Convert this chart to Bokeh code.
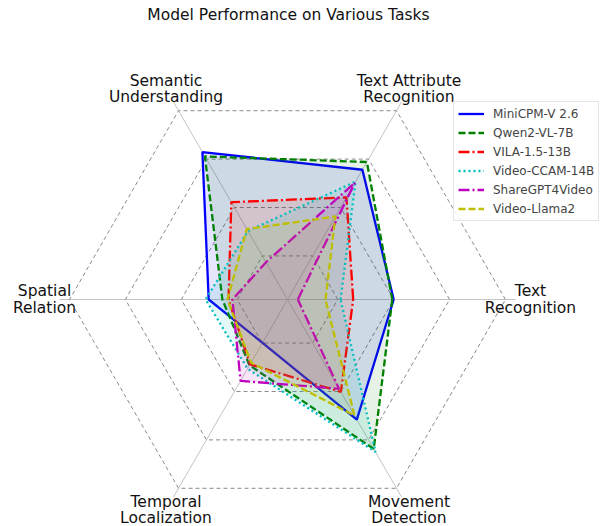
import math
from bokeh.plotting import figure
from bokeh.models import Range1d, Legend, LegendItem
from bokeh.core.properties import value
from bokeh.embed import file_html
from bokeh.resources import INLINE

# ---------------- data ----------------
categories = [
    ["Text", "Recognition"],
    ["Text Attribute", "Recognition"],
    ["Semantic", "Understanding"],
    ["Spatial", "Relation"],
    ["Temporal", "Localization"],
    ["Movement", "Detection"],
]
models = ["MiniCPM-V 2.6", "Qwen2-VL-7B", "VILA-1.5-13B",
          "Video-CCAM-14B", "ShareGPT4Video", "Video-Llama2"]
minicpm = [40.0, 55.6, 62.9, 30.2, 19.9, 51.6]
qwen = [39.5, 58.8, 61.1, 25.3, 29.2, 63.7]
vila = [25.5, 44.2, 42.2, 23.1, 28.8, 40.2]
ccam = [21.0, 50.7, 30.3, 31.3, 30.6, 65.0]
sharegpt = [5.7, 50.3, 17.4, 21.7, 35.6, 38.9]
llama2 = [15.6, 36.3, 31.1, 23.5, 28.1, 49.9]
series = [minicpm, qwen, vila, ccam, sharegpt, llama2]
ring_levels = [20, 40, 60, 80]
r_min, r_max = 2, 80

# ---------------- style ----------------
colors = ["#0000ff", "#008000", "#ff0000", "#00bfbf", "#bf00bf", "#bfbf00"]
dashes = ["solid", "7 3", "11 3 2 3", "2 3", "11 3 2 3", "7 3"]
FONT = "DejaVu Sans"
R_PX = 218.0          # radius of outer ring in px
W, H = 605, 526
CX, CY = 287, 299     # centre in canvas px from top-left

def rad(v):
    return (v - r_min) / (r_max - r_min) * R_PX

n = len(categories)
angles = [math.radians(60 * i) for i in range(n)]

p = figure(width=W, height=H, output_backend="svg", toolbar_location=None,
           x_range=Range1d(-CX, W - CX), y_range=Range1d(-(H - CY), CY),
           x_axis_location=None, y_axis_location=None, min_border=0,
           background_fill_color="white", border_fill_color="white")
p.outline_line_color = None
p.grid.visible = False

# spokes
for a in angles:
    p.line([0, 228 * math.cos(a)], [0, 228 * math.sin(a)],
           line_color="#c4c4c4", line_width=1)

# rings
for lv in ring_levels:
    r = rad(lv)
    xs = [r * math.cos(a) for a in angles] + [r]
    ys = [r * math.sin(a) for a in angles] + [0]
    p.line(xs, ys, line_color="#8a8a8a", line_width=1, line_dash="4 3")

# series
items = []
for name, vals, c, d in zip(models, series, colors, dashes):
    xs = [rad(v) * math.cos(a) for v, a in zip(vals, angles)]
    ys = [rad(v) * math.sin(a) for v, a in zip(vals, angles)]
    ln = p.line(xs + [xs[0]], ys + [ys[0]], line_color=c, line_width=2.3,
                line_dash=d)
    p.patch(xs, ys, fill_color=c, fill_alpha=0.1, line_color=None)
    items.append(LegendItem(label=name, renderers=[ln]))

# category labels
LR = 243
for lines, a in zip(categories, angles):
    x0 = LR * math.cos(a)
    y0 = LR * math.sin(a)
    k = len(lines)
    for j, t in enumerate(lines):
        dy = (k - 1) / 2 * 16.5 - j * 16.5
        p.text([x0], [y0 + dy], text=[t], text_font=value(FONT),
               text_font_size="15.5px", text_align="center",
               text_baseline="middle", text_color="#111111")

# title
p.text([1], [CY - 14.5], text=["Model Performance on Various Tasks"],
       text_font=value(FONT), text_font_size="15.5px", text_align="center",
       text_baseline="middle", text_color="#111111")

legend = Legend(items=items, location=(453, 305), margin=0, padding=4,
                spacing=4, label_height=15, glyph_height=15, glyph_width=26,
                label_standoff=9, label_text_font=FONT,
                label_text_font_size="12px", border_line_color="#cccccc",
                border_line_width=1, background_fill_alpha=0.85)
p.add_layout(legend)

open("out.html", "w").write(file_html(p, INLINE))
